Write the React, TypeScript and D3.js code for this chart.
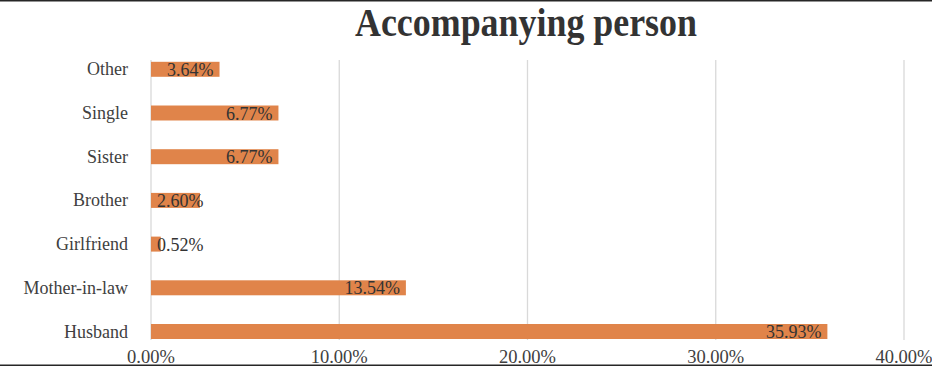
import * as d3 from 'd3'
import { useEffect, useRef } from 'react'

const categories = ['Other', 'Single', 'Sister', 'Brother', 'Girlfriend', 'Mother-in-law', 'Husband']
const values = [3.64, 6.77, 6.77, 2.6, 0.52, 13.54, 35.93]
const xTicks = [0, 10, 20, 30, 40]

const W = 932
const H = 366
const FONT = '"Liberation Serif", "Times New Roman", serif'

const App = () => {
  const ref = useRef<SVGSVGElement>(null)

  useEffect(() => {
    const svg = d3.select(ref.current)
    svg.selectAll('*').remove()
    svg.attr('width', W).attr('height', H)

    const x = d3.scaleLinear().domain([0, 40]).range([151, 904])
    const y = d3
      .scaleBand()
      .domain(categories)
      .range([47.45, 353.35])
      .paddingInner(0.657)
      .paddingOuter(0.3285)

    svg.append('rect').attr('width', W).attr('height', H).attr('fill', '#fff')

    // frame lines
    svg.append('line').attr('x1', 0).attr('x2', W).attr('y1', 0.7).attr('y2', 0.7)
      .attr('stroke', '#262626').attr('stroke-width', 1.5)
    svg.append('line').attr('x1', 0).attr('x2', W).attr('y1', 365.2).attr('y2', 365.2)
      .attr('stroke', '#262626').attr('stroke-width', 1.6)

    // title
    svg.append('text')
      .attr('x', 526)
      .attr('y', 36)
      .attr('text-anchor', 'middle')
      .attr('font-family', FONT)
      .attr('font-weight', 'bold')
      .attr('font-size', 40)
      .attr('fill', '#333')
      .attr('textLength', 342)
      .attr('lengthAdjust', 'spacingAndGlyphs')
      .text('Accompanying person')

    // gridlines
    svg.append('g')
      .selectAll('line')
      .data(xTicks)
      .enter()
      .append('line')
      .attr('x1', (d) => x(d))
      .attr('x2', (d) => x(d))
      .attr('y1', 60)
      .attr('y2', 340)
      .attr('stroke', '#d9d9d9')
      .attr('stroke-width', 1.3)

    // x tick labels
    svg.append('g')
      .selectAll('text')
      .data(xTicks)
      .enter()
      .append('text')
      .attr('x', (d) => x(d))
      .attr('y', 363)
      .attr('text-anchor', 'middle')
      .attr('font-family', FONT)
      .attr('font-size', 18.5)
      .attr('fill', '#404040')
      .text((d) => d3.format('.2f')(d) + '%')

    // category labels
    svg.append('g')
      .selectAll('text')
      .data(categories)
      .enter()
      .append('text')
      .attr('x', 128)
      .attr('y', (d) => (y(d) as number) + y.bandwidth() / 2 + 6)
      .attr('text-anchor', 'end')
      .attr('font-family', FONT)
      .attr('font-size', 18)
      .attr('fill', '#404040')
      .text((d) => d)

    // bars
    svg.append('g')
      .selectAll('rect')
      .data(values)
      .enter()
      .append('rect')
      .attr('x', x(0))
      .attr('y', (d, i) => y(categories[i]) as number)
      .attr('width', (d) => x(d) - x(0))
      .attr('height', y.bandwidth())
      .attr('fill', '#e0844a')

    // value labels (inside end, pushed to the base when too long)
    const labels = svg.append('g')
      .selectAll('text')
      .data(values)
      .enter()
      .append('text')
      .attr('y', (d, i) => (y(categories[i]) as number) + y.bandwidth() / 2 + 6.5)
      .attr('font-family', FONT)
      .attr('font-size', 18)
      .attr('fill', '#333')
      .text((d) => d3.format('.2f')(d) + '%')

    labels.each(function (d) {
      const t = this as SVGTextElement
      const len = t.getComputedTextLength()
      const end = x(d) - 6
      const start = Math.max(x(0) + 6, end - len)
      d3.select(t).attr('x', start)
    })
  }, [])

  return (
    <div style={{ position: 'fixed', left: 0, top: 0, width: W, height: H }}>
      <svg ref={ref}></svg>
    </div>
  )
}

export default App
